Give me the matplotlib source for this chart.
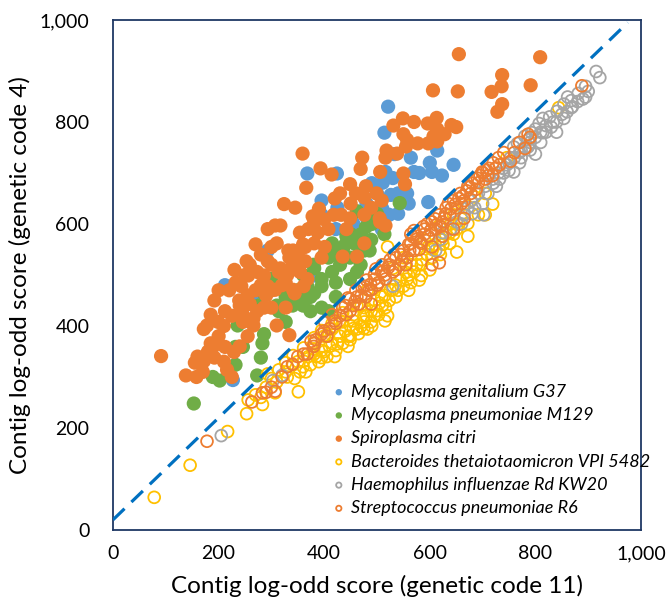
import numpy as np
import matplotlib
matplotlib.use('Agg')
from matplotlib import pyplot as plt

plt.rcParams['font.family'] = ['Lato', 'DejaVu Sans']

# Contig log-odd scores: (genetic code 11, genetic code 4)
genitalium = [(521, 830), (514, 779), (533, 737), (564, 730), (614, 744), (645, 716), (623, 695),
              (604, 702), (570, 702), (516, 702), (511, 681), (526, 657), (540, 660), (557, 660),
              (597, 643), (523, 618), (509, 590), (482, 608), (455, 601), (425, 632), (395, 646),
              (368, 699), (424, 699), (395, 618), (422, 590), (408, 548), (381, 499), (293, 548),
              (354, 527), (212, 480), (227, 294), (273, 450), (480, 640), (500, 660), (510, 630),
              (540, 620), (560, 640), (530, 690), (490, 680), (580, 700), (600, 720)]

pneumoniae = [(543, 641), (514, 580), (479, 594), (489, 569), (486, 548), (469, 520), (449, 534),
              (442, 576), (415, 562), (408, 534), (381, 513), (415, 506), (449, 492), (422, 485),
              (395, 478), (374, 457), (354, 457), (374, 429), (395, 436), (408, 429), (422, 457),
              (327, 457), (327, 408), (314, 429), (286, 464), (276, 440), (286, 384), (283, 366),
              (280, 338), (273, 303), (236, 401), (232, 359), (246, 359), (232, 324), (189, 300),
              (202, 293), (153, 248), (300, 492), (462, 625), (476, 548), (462, 506), (435, 548),
              (395, 492), (368, 478), (381, 464), (310, 440), (340, 440),
              (350, 470), (360, 500), (380, 520), (400, 540), (420, 540), (430, 520), (440, 560),
              (450, 580), (460, 560), (470, 580), (490, 600), (500, 620), (360, 440)]

spiroplasma = [(655, 933), (809, 927), (737, 892), (717, 859), (736, 870), (737, 835), (728, 820),
               (791, 872), (606, 862), (653, 860), (549, 807), (570, 800), (531, 793), (613, 808),
               (641, 794), (650, 790), (596, 797), (550, 776), (607, 772), (628, 776), (555, 752),
               (577, 758), (597, 758), (614, 762), (614, 786), (557, 765), (518, 744), (538, 738),
               (516, 730), (472, 730), (506, 702), (550, 699), (553, 678), (469, 708), (449, 678),
               (479, 674), (499, 660), (476, 652), (509, 646), (505, 611), (476, 618), (489, 632),
               (359, 738), (393, 709), (414, 697), (366, 671), (324, 639), (345, 632), (378, 615),
               (400, 609), (418, 618), (432, 618), (408, 590), (388, 583), (354, 583), (293, 590),
               (307, 597), (317, 597), (300, 555), (310, 562), (332, 548), (341, 548), (364, 555),
               (381, 562), (401, 555), (395, 534), (364, 527), (354, 506), (341, 520), (334, 534),
               (317, 513), (293, 527), (259, 520), (253, 527), (256, 499), (273, 506), (286, 499),
               (314, 506), (327, 485), (341, 471), (344, 464), (368, 492), (361, 478), (293, 478),
               (307, 471), (243, 478), (232, 485), (239, 450), (259, 443), (246, 422), (273, 429),
               (286, 436), (300, 436), (327, 436), (310, 401), (266, 401), (266, 415), (246, 408),
               (212, 429), (192, 450), (185, 422), (199, 408), (178, 401), (172, 394), (185, 366),
               (178, 345), (192, 338), (172, 331), (212, 359), (229, 349), (216, 314), (155, 328),
               (138, 303), (158, 300), (91, 341), (334, 382), (462, 536), (435, 536), (476, 562),
               (449, 611), (516, 597), (442, 590), (506, 604), (200, 380), (210, 400), (225, 420),
               (240, 440), (255, 460), (270, 470), (280, 480), (290, 460), (300, 470), (320, 480),
               (330, 500), (350, 540), (360, 560), (370, 590), (380, 600), (390, 630), (420, 650),
               (430, 660), (450, 640), (460, 660), (300, 520), (280, 540), (270, 560), (250, 500),
               (230, 510), (220, 470), (200, 470), (190, 360), (180, 350), (160, 340), (170, 310),
               (210, 330), (225, 300), (240, 360), (255, 380)]

bacteroides = [(78, 64), (146, 127), (217, 193), (253, 228), (283, 246), (256, 255), (307, 269),
               (351, 271), (344, 297), (327, 310), (300, 297), (341, 324), (361, 331), (381, 345),
               (395, 352), (415, 366), (435, 366), (449, 380), (462, 394), (482, 394), (489, 408),
               (503, 422), (516, 436), (523, 450), (536, 457), (550, 478), (557, 492), (570, 506),
               (584, 520), (604, 534), (651, 545), (618, 548), (597, 555), (624, 569), (638, 583),
               (651, 590), (672, 601), (692, 618), (719, 639), (705, 660), (520, 555), (415, 394),
               (435, 408), (455, 422), (476, 436), (496, 450), (374, 324), (395, 338), (408, 380),
               (422, 352), (449, 401), (489, 429), (530, 471), (564, 485), (584, 499), (746, 730),
               (844, 828), (678, 646), (638, 562), (381, 366), (354, 310), (449, 373), (476, 408),
               (509, 457), (462, 440), (435, 426), (415, 405), (395, 391), (381, 377), (361, 357),
               (341, 342), (327, 328), (314, 314), (293, 306), (503, 485), (482, 471), (530, 513),
               (550, 534), (570, 548), (590, 569), (618, 597), (645, 618), (665, 639), (685, 653),
               (705, 618), (672, 576), (360, 320), (370, 340), (390, 330), (400, 350), (410, 360),
               (420, 340), (430, 380), (440, 390), (445, 360), (455, 395), (470, 400), (480, 420),
               (490, 400), (500, 430), (510, 440), (520, 420), (525, 470), (540, 470), (545, 490),
               (560, 470), (560, 500), (575, 520), (580, 490), (595, 540), (600, 510), (610, 560),
               (620, 540), (630, 580), (640, 600), (660, 610), (470, 440), (430, 410), (400, 380),
               (380, 355), (350, 330), (330, 300), (310, 290), (290, 280), (280, 260), (270, 265),
               (365, 310), (385, 340), (405, 340), (425, 365), (445, 380), (465, 385), (475, 420),
               (495, 420), (505, 445), (515, 460), (535, 480), (555, 505), (565, 520), (585, 530),
               (605, 550), (625, 560), (645, 580), (655, 600), (475, 395), (455, 410), (515, 410)]

haemophilus = [(915, 899), (922, 887), (895, 870), (881, 856), (868, 842), (854, 835), (841, 821),
               (827, 810), (814, 807), (807, 797), (800, 786), (793, 779), (780, 772), (766, 758),
               (759, 751), (786, 751), (773, 744), (800, 737), (753, 730), (746, 716), (739, 709),
               (759, 702), (719, 688), (705, 674), (692, 660), (678, 646), (702, 618), (672, 632),
               (651, 604), (624, 583), (611, 548), (530, 478), (320, 303), (303, 293), (205, 185),
               (854, 807), (868, 828), (820, 793), (834, 800), (773, 730), (786, 765), (726, 674),
               (712, 695), (732, 688), (685, 632), (665, 618), (895, 849), (861, 849), (814, 779),
               (620, 570), (640, 590), (660, 600), (680, 620), (700, 640), (710, 660), (720, 680),
               (740, 700), (750, 720), (760, 730), (770, 740), (780, 750), (790, 760), (800, 770),
               (810, 780), (820, 780), (830, 790), (840, 800), (850, 815), (860, 820), (870, 830),
               (880, 840), (890, 845), (900, 860), (770, 720), (790, 745), (810, 760), (840, 780),
               (750, 705), (730, 700)]

streptococcus = [(178, 174), (263, 251), (283, 269), (307, 272), (368, 345), (381, 366), (405, 380),
                 (422, 405), (442, 422), (449, 429), (466, 443), (479, 457), (489, 471), (503, 485),
                 (516, 492), (530, 506), (543, 520), (557, 534), (570, 548), (570, 587), (584, 562),
                 (597, 576), (611, 590), (624, 604), (638, 618), (651, 632), (665, 646), (678, 660),
                 (692, 681), (705, 688), (719, 695), (732, 716), (753, 723), (780, 748), (786, 776),
                 (888, 871), (604, 520), (449, 453), (395, 384), (361, 345), (476, 478), (496, 492),
                 (509, 506), (523, 520), (536, 534), (550, 548), (564, 562), (577, 576), (590, 590),
                 (604, 604), (618, 618), (631, 632), (645, 646), (658, 660), (672, 674), (685, 688),
                 (699, 702), (712, 709), (604, 555), (624, 576), (645, 590), (665, 611), (462, 457),
                 (435, 436), (415, 422), (401, 408), (384, 373), (489, 443), (618, 524), (564, 580),
                 (430, 420), (440, 440), (455, 440), (460, 470), (470, 460), (480, 490), (485, 470),
                 (495, 500), (500, 480), (510, 520), (515, 500), (525, 530), (535, 510), (545, 540),
                 (555, 520), (560, 560), (575, 570), (580, 550), (590, 580), (595, 600), (610, 610),
                 (620, 595), (630, 620), (640, 630), (655, 650), (660, 640), (670, 665), (680, 680),
                 (690, 690), (700, 700), (710, 695), (720, 720), (730, 730), (740, 740), (760, 740),
                 (770, 760), (790, 770), (410, 395), (420, 410), (400, 390), (380, 360), (375, 370),
                 (350, 340), (340, 325), (330, 320), (320, 300), (300, 280), (290, 270),
                 (445, 455), (458, 448), (472, 475), (488, 482), (498, 512), (512, 508), (522, 515),
                 (532, 540), (548, 528), (562, 548), (568, 575), (582, 565), (588, 595), (602, 588),
                 (612, 598), (628, 612), (635, 640), (648, 638), (662, 655), (675, 672), (688, 668),
                 (695, 695), (708, 705), (725, 710)]

names = ['Mycoplasma genitalium G37', 'Mycoplasma pneumoniae M129', 'Spiroplasma citri',
         'Bacteroides thetaiotaomicron VPI 5482', 'Haemophilus influenzae Rd KW20',
         'Streptococcus pneumoniae R6']

# diagonal reference line (offset 20)
line_x = [0, 975]
line_offset = 20

fig = plt.figure(figsize=(6.68, 6.11), dpi=100)
ax = fig.add_axes([0.1692, 0.1326, 0.7904, 0.8347])

filled = [(genitalium, '#5B9BD5'), (pneumoniae, '#70AD47'), (spiroplasma, '#ED7D31')]
hollow = [(bacteroides, '#FFC000'), (haemophilus, '#A5A5A5'), (streptococcus, '#ED7D31')]

i = 0
for pts, col in filled:
    a = np.array(pts)
    ax.scatter(a[:, 0], a[:, 1], s=105, color=col, edgecolors='none', label=names[i], zorder=2 + i)
    i = i + 1
for pts, col in hollow:
    a = np.array(pts)
    ax.scatter(a[:, 0], a[:, 1], s=72, facecolors='none', edgecolors=col, linewidths=1.3,
               label=names[i], zorder=2 + i)
    i = i + 1

lx = np.array(line_x)
ax.plot(lx, lx + line_offset, color='#0070C0', lw=2.3, dashes=(5, 3), zorder=10)

ax.set_xlim(0, 1000)
ax.set_ylim(0, 1000)
ticks = np.arange(0, 1001, 200)
ax.set_xticks(ticks)
ax.set_yticks(ticks)
ax.set_xticklabels(['{:,}'.format(t) for t in ticks])
ax.set_yticklabels(['{:,}'.format(t) for t in ticks])
ax.tick_params(length=0, labelsize=14, pad=11)
ax.tick_params(axis='y', pad=17)
for sp in ax.spines.values():
    sp.set_color('#1F3864')
    sp.set_linewidth(1.3)

ax.set_xlabel('Contig log-odd score (genetic code 11)', fontsize=17.5, labelpad=9)
ax.set_ylabel('Contig log-odd score (genetic code 4)', fontsize=17.5, labelpad=6)

leg = ax.legend(loc='upper left', bbox_to_anchor=(0.39, 0.304), frameon=False, markerscale=0.45,
                handletextpad=0.05, labelspacing=0.4, borderpad=0, handlelength=1.2,
                prop={'style': 'italic', 'size': 13})

fig.savefig('out.png', dpi=100)
